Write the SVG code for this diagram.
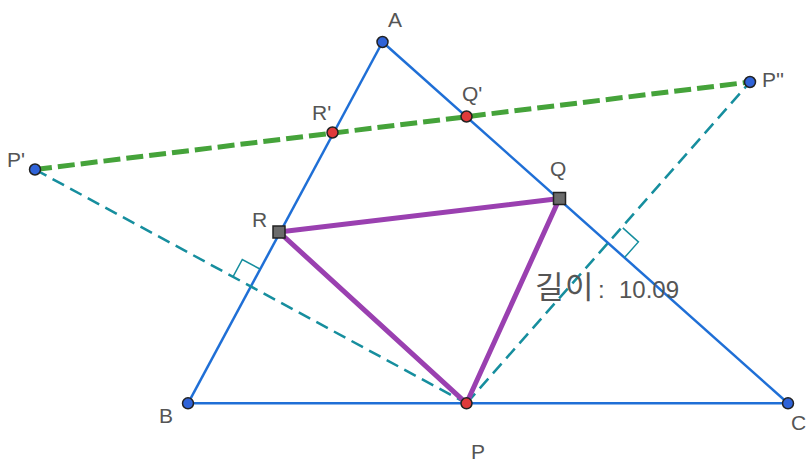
<svg xmlns="http://www.w3.org/2000/svg" width="808" height="463" viewBox="0 0 808 463">
<style>
.tri{stroke:#1f6fd6;stroke-width:2.5;fill:none}
.teal{stroke:#168e9e;stroke-width:2.5;stroke-dasharray:13 7;fill:none}
.ra{stroke:#168e9e;stroke-width:1.5;fill:none}
.green{stroke:#45a33a;stroke-width:5;stroke-dasharray:17 6;fill:none}
.purple{stroke:#9a40b0;stroke-width:5;fill:none;stroke-linecap:round}
.pb{fill:#2f63d8;stroke:#222;stroke-width:1.5}
.pr{fill:#e03a3a;stroke:#222;stroke-width:1.5}
.ps{fill:#6b6b6b;stroke:#222;stroke-width:1.5}
.lbl{font-family:"Liberation Sans","Noto Sans",sans-serif;font-size:21px;fill:#555}
.len{font-family:"Liberation Sans","Noto Sans CJK KR",sans-serif;font-size:24px;fill:#555}
</style>
<rect width="808" height="463" fill="#fff"/>
<g id="connectors">
<line class="tri" x1="382.5" y1="42" x2="188" y2="403.3"/>
<line class="tri" x1="188" y1="403.3" x2="788" y2="403.3"/>
<line class="tri" x1="382.5" y1="42" x2="788" y2="403.3"/>
<line class="teal" x1="35" y1="169.5" x2="466.5" y2="403.3"/>
<line class="teal" x1="466.5" y1="403.3" x2="750" y2="82"/>
<path class="ra" d="M259.9 269 L242.3 259.5 L232.8 277.1"/>
<path class="ra" d="M624.5 257.6 L638.4 241.9 L622.8 227.9"/>
<line class="green" x1="35" y1="169.5" x2="750" y2="82"/>
<line class="purple" x1="279" y1="232" x2="559.5" y2="198.5"/>
<line class="purple" x1="559.5" y1="198.5" x2="466.5" y2="403.3"/>
<line class="purple" x1="466.5" y1="403.3" x2="279" y2="232"/>
</g>
<g id="A"><circle class="pb" cx="382.5" cy="42" r="5.5"/><text class="lbl" x="388" y="27">A</text></g>
<g id="B"><circle class="pb" cx="188" cy="403.3" r="5.5"/><text class="lbl" x="159" y="423">B</text></g>
<g id="C"><circle class="pb" cx="788" cy="403.3" r="5.5"/><text class="lbl" x="791" y="430">C</text></g>
<g id="P"><circle class="pr" cx="466.5" cy="403.3" r="5.5"/><text class="lbl" x="471" y="459">P</text></g>
<g id="P1"><circle class="pb" cx="35" cy="169.5" r="5.5"/><text class="lbl" x="7" y="167">P'</text></g>
<g id="P2"><circle class="pb" cx="750" cy="82" r="5.5"/><text class="lbl" x="762" y="87">P''</text></g>
<g id="R1"><circle class="pr" cx="332.5" cy="132.5" r="5.5"/><text class="lbl" x="312" y="120">R'</text></g>
<g id="Q1"><circle class="pr" cx="466.5" cy="116.5" r="5.5"/><text class="lbl" x="462" y="101">Q'</text></g>
<g id="R"><rect class="ps" x="273" y="226" width="12" height="12"/><text class="lbl" x="252" y="227">R</text></g>
<g id="Q"><rect class="ps" x="553.5" y="192.5" width="12" height="12"/><text class="lbl" x="550" y="176">Q</text></g>
<g id="length"><text class="len" x="535" y="298"><tspan font-size="31" letter-spacing="1.5">길이</tspan><tspan x="598">: </tspan><tspan x="619">10.09</tspan></text></g>
</svg>
